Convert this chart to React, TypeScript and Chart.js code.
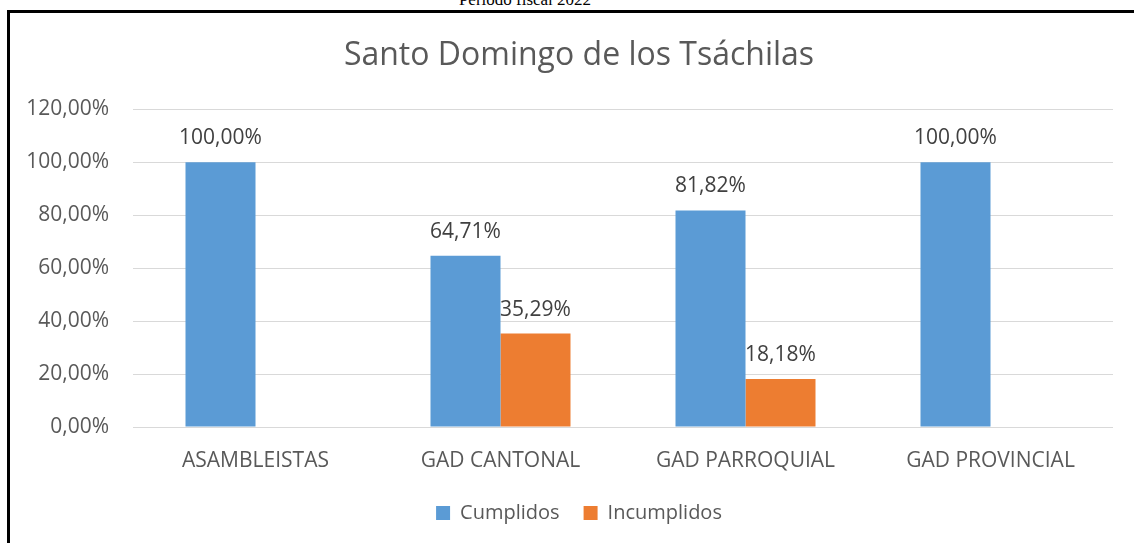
import React, { useEffect, useRef } from "react";
import { Chart, registerables } from "chart.js";

Chart.register(...registerables);

const categories = ["ASAMBLEISTAS", "GAD CANTONAL", "GAD PARROQUIAL", "GAD PROVINCIAL"];
const cumplidos = [100, 64.71, 81.82, 100];
const incumplidos = [null, 35.29, 18.18, null];
const yTicks = [0, 20, 40, 60, 80, 100, 120];

const chartTitle = "Santo Domingo de los Tsáchilas";
const caption = "Periodo fiscal 2022";

const fmt = (v: number) => v.toFixed(2).replace(".", ",") + "%";

const FONT = "'Open Sans', sans-serif";

const valueLabels = {
  id: "valueLabels",
  afterDatasetsDraw(chart: any) {
    const ctx = chart.ctx;
    ctx.save();
    ctx.font = `21px ${FONT}`;
    ctx.fillStyle = "#404040";
    ctx.textAlign = "center";
    ctx.textBaseline = "middle";
    chart.data.datasets.forEach((ds: any, di: number) => {
      const meta = chart.getDatasetMeta(di);
      meta.data.forEach((el: any, i: number) => {
        const v = ds.data[i];
        if (v === null || v === undefined) return;
        ctx.fillText(fmt(v), el.x, el.y - 24);
      });
    });
    ctx.restore();
  },
};

export default function App() {
  const ref = useRef<HTMLCanvasElement>(null);

  useEffect(() => {
    if (!ref.current) return;
    const chart = new Chart(ref.current, {
      type: "bar",
      data: {
        labels: categories,
        datasets: [
          {
            label: "Cumplidos",
            data: cumplidos,
            backgroundColor: "#5B9BD5",
            categoryPercentage: 0.5714,
            barPercentage: 1,
          },
          {
            label: "Incumplidos",
            data: incumplidos,
            backgroundColor: "#ED7D31",
            categoryPercentage: 0.5714,
            barPercentage: 1,
          },
        ],
      },
      options: {
        responsive: false,
        animation: false,
        devicePixelRatio: 1,
        layout: { padding: { left: 0, right: 0, top: 0, bottom: 10 } },
        plugins: {
          title: {
            display: true,
            text: chartTitle,
            color: "#595959",
            font: { family: FONT, size: 32, weight: "normal" },
            padding: { top: 24, bottom: 34 },
          },
          legend: {
            position: "bottom",
            labels: {
              color: "#595959",
              font: { family: FONT, size: 20 },
              boxWidth: 14,
              boxHeight: 14,
              padding: 24,
            },
          },
          tooltip: { enabled: false },
        },
        scales: {
          x: {
            grid: { display: false },
            border: { display: false },
            ticks: {
              color: "#595959",
              font: { family: FONT, size: 21 },
              padding: 13,
            },
            afterFit: (s: any) => {
              s.height = 52;
            },
          },
          y: {
            min: 0,
            max: 120,
            afterBuildTicks: (s: any) => {
              s.ticks = yTicks.map((v) => ({ value: v }));
            },
            grid: { color: "#d9d9d9", lineWidth: 1, drawTicks: false },
            border: { display: false },
            ticks: {
              color: "#595959",
              font: { family: FONT, size: 21 },
              padding: 24,
              callback: (v: any) => fmt(Number(v)),
            },
            afterFit: (s: any) => {
              s.width = 123;
            },
          },
          yRight: {
            position: "right",
            min: 0,
            max: 120,
            grid: { display: false, drawTicks: false },
            border: { display: false },
            ticks: { display: false },
            afterFit: (s: any) => {
              s.width = 35;
            },
          },
        },
      },
      plugins: [valueLabels],
    });
    return () => chart.destroy();
  }, []);

  return (
    <div
      style={{
        position: "fixed",
        left: 0,
        top: 0,
        width: 1134,
        height: 543,
        overflow: "hidden",
        background: "#fff",
      }}
    >
      <div
        style={{
          position: "absolute",
          left: 525,
          top: -8,
          transform: "translateX(-50%)",
          whiteSpace: "nowrap",
          fontFamily: "'Liberation Serif', 'Times New Roman', serif",
          fontSize: 17,
          lineHeight: "16px",
          color: "#000",
        }}
      >
        {caption}
      </div>
      <div
        style={{
          position: "absolute",
          left: 7,
          top: 10,
          width: 1160,
          height: 560,
          borderLeft: "3px solid #000",
          borderTop: "3px solid #000",
        }}
      >
        <canvas
          ref={ref}
          width={1138}
          height={530}
          style={{ position: "absolute", left: 0, top: 0, width: 1138, height: 530 }}
        />
      </div>
    </div>
  );
}
